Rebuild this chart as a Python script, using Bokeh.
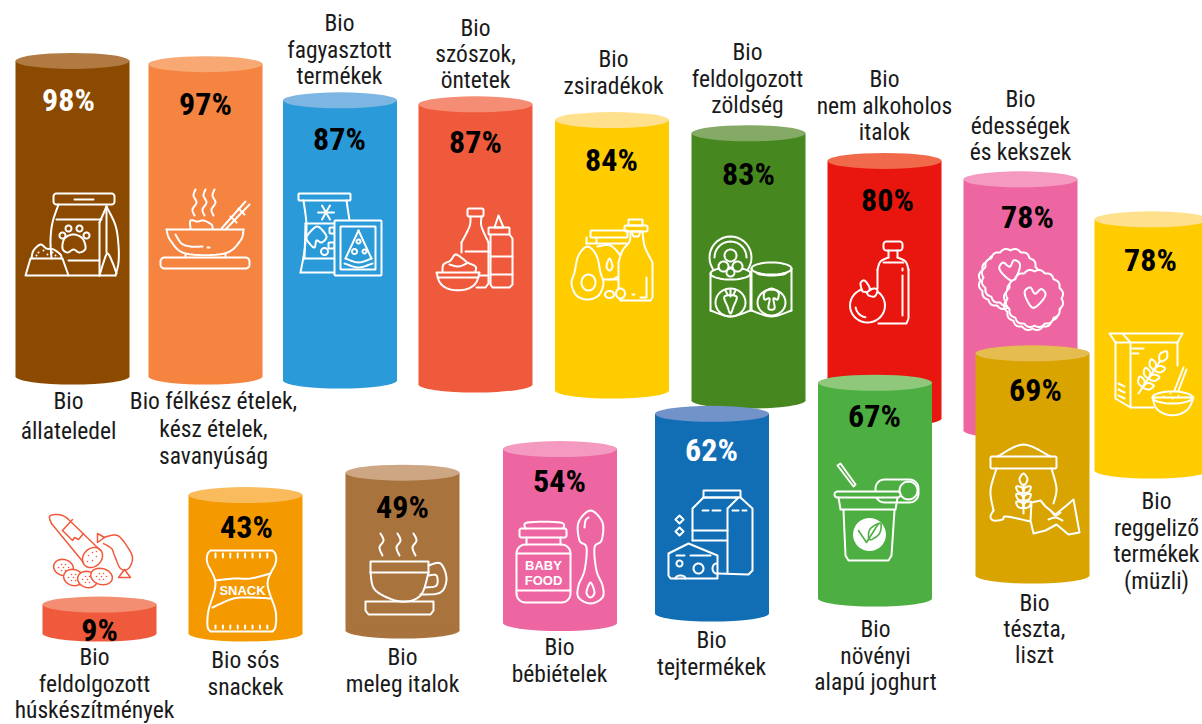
import math
from bokeh.plotting import figure
from bokeh.models import ColumnDataSource
from bokeh.core.properties import value
from bokeh.embed import file_html
from bokeh.resources import INLINE

# ---- chart data ----
categories = [
    "Bio\nállateledel", "Bio félkész ételek,\nkész ételek,\nsavanyúság",
    "Bio\nfagyasztott\ntermékek", "Bio\nszószok,\nöntetek", "Bio\nzsiradékok",
    "Bio\nfeldolgozott\nzöldség", "Bio\nnem alkoholos\nitalok",
    "Bio\nédességek\nés kekszek", "Bio\nreggeliző\ntermékek\n(müzli)",
    "Bio\ntészta,\nliszt", "Bio\nnövényi\nalapú joghurt", "Bio\ntejtermékek",
    "Bio\nbébiételek", "Bio\nmeleg italok", "Bio sós\nsnackek",
    "Bio\nfeldolgozott\nhúskészítmények",
]
shares = [98, 97, 87, 87, 84, 83, 80, 78, 78, 69, 67, 62, 54, 49, 43, 9]

# ---- styling ----
body_colors = ["#8B4A00", "#F4843F", "#2A9AD8", "#F05A3C", "#FFCC00", "#46871F", "#E8160E", "#EE66A1",
               "#FFCC00", "#D9A400", "#4DAE41", "#126EB4", "#EE66A1", "#A9733D", "#F59900", "#F05A3C"]
lid_colors = ["#B07A42", "#F7A873", "#7DB5E3", "#F48D73", "#FFE08C", "#84AA66", "#F0694A", "#F49AC1",
              "#FFE08C", "#E5BC50", "#8FC87B", "#7193C9", "#F49AC1", "#CDA783", "#F9BB5C", "#F48E72"]
pct_colors = ["white", "black", "black", "black", "black", "black", "black", "black",
              "black", "black", "black", "white", "black", "black", "black", "black"]

# ---- layout (screen pixels) ----
PX_PER_PCT = 3.22
CYL_W, LID_H, FOOT_H = 114, 16, 16
col_x = [72, 205, 339.5, 475, 611.5, 748, 884, 1020, 1151, 1032, 874.5, 711.5, 559.5, 402, 245, 99]
col_base = [376, 376, 380, 384, 390, 400, 418, 430, 470, 575, 598, 613, 622.5, 630, 633, 633]
pct_x = [68, 205, 339, 475, 611, 748, 887, 1027, 1150, 1035, 874, 711, 559, 402, 246, 99]
pct_y = [99, 103, 138, 141, 159, 173, 199, 216, 259, 389, 415, 449, 480, 506, 526, 629]
lab_x = [68, 213, 339, 475, 613, 747, 884, 1020, 1156, 1034, 875, 711, 559, 402, 245, 94]
lab_y = [400.5, 400.5, 22.5, 27.5, 58.5, 51.5, 78.5, 98.5, 500.5, 602.5, 628.5, 639.5, 646.5, 656.5, 659.5, 656.5]
lab_gap = [30, 27.5, 26.5, 26, 27, 26.5, 26.5, 26.5, 26.5, 26, 26.5, 27, 27, 27, 27, 26.5]

FONT = "Roboto Condensed"

p = figure(width=1202, height=724, x_range=(0, 1202), y_range=(724, 0),
           output_backend="svg", toolbar_location=None, min_border=0)
p.axis.visible = False
p.grid.visible = False
p.outline_line_color = None


# ---- small icon drawing kit (pure decoration) ----
def spline(pts, closed=False, n=8):
    out = []
    m = len(pts)
    rng = range(m if closed else m - 1)
    for i in rng:
        if closed:
            a, b, c, d = pts[(i - 1) % m], pts[i], pts[(i + 1) % m], pts[(i + 2) % m]
        else:
            a, b, c, d = pts[max(i - 1, 0)], pts[i], pts[i + 1], pts[min(i + 2, m - 1)]
        for k in range(n):
            t = k / n
            out.append(tuple(0.5 * (2 * b[j] + (c[j] - a[j]) * t + (2 * a[j] - 5 * b[j] + 4 * c[j] - d[j]) * t * t
                                    + (3 * b[j] - a[j] - 3 * c[j] + d[j]) * t ** 3) for j in (0, 1)))
    out.append(pts[0] if closed else pts[-1])
    return out


def ell_pts(cx, cy, rx, ry=None, a0=0, a1=360, rot=0):
    ry = rx if ry is None else ry
    res = []
    c, s = math.cos(math.radians(rot)), math.sin(math.radians(rot))
    steps = max(6, int(abs(a1 - a0) / 10))
    for i in range(steps + 1):
        a = math.radians(a0 + (a1 - a0) * i / steps)
        x, y = rx * math.cos(a), ry * math.sin(a)
        res.append((cx + x * c - y * s, cy + x * s + y * c))
    return res


def rrect_pts(x0, y0, x1, y1, r=2):
    pts = []
    pts += ell_pts(x1 - r, y0 + r, r, r, -90, 0)
    pts += ell_pts(x1 - r, y1 - r, r, r, 0, 90)
    pts += ell_pts(x0 + r, y1 - r, r, r, 90, 180)
    pts += ell_pts(x0 + r, y0 + r, r, r, 180, 270)
    pts.append(pts[0])
    return pts


class Icon:
    def __init__(self, fill, color="white", lw=2.0):
        self.fill, self.color, self.lw = fill, color, lw
        self.xs, self.ys = [], []

    def flush(self):
        if self.xs:
            p.multi_line(self.xs, self.ys, line_color=self.color, line_width=self.lw,
                         line_cap="round", line_join="round")
            self.xs, self.ys = [], []

    def path(self, pts):
        self.xs.append([q[0] for q in pts])
        self.ys.append([q[1] for q in pts])

    def line(self, *pts):
        self.path(pts)

    def curve(self, *pts):
        self.path(spline(pts))

    def blob(self, *pts):
        self.path(spline(pts, closed=True))

    def ell(self, *a, **k):
        self.path(ell_pts(*a, **k))

    def rrect(self, *a, **k):
        self.path(rrect_pts(*a, **k))

    def solid(self, pts, color=None, stroke=True):
        """Area that hides what is behind it."""
        self.flush()
        pts = list(pts)
        p.patch([q[0] for q in pts], [q[1] for q in pts], fill_color=color or self.fill,
                line_color=self.color if stroke else None, line_width=self.lw, line_join="round")

    def dots(self, *pts, size=2):
        self.flush()
        p.scatter([q[0] for q in pts], [q[1] for q in pts], size=size, color=self.color, line_color=None)

    def text(self, x, y, s, size):
        self.flush()
        p.text([x], [y], text=[s], text_align="center", text_baseline="middle", text_color=self.color,
               text_font=value("Liberation Sans"), text_font_style="bold", text_font_size=f"{size}px")


def leafy(ic, x0, y0, x1, y1, n=3, lean=7, size=5):
    """Ear of grain: a stem with pairs of leaves."""
    ic.line((x0, y0), (x1, y1))
    ux, uy = (x1 - x0), (y1 - y0)
    L = math.hypot(ux, uy)
    ux, uy = ux / L, uy / L
    nx, ny = -uy, ux
    for i in range(n):
        t = L * (0.2 + 0.26 * i)
        bx, by = x0 + ux * t, y0 + uy * t
        for sgn in (1, -1):
            tx = bx + ux * lean + nx * sgn * lean * 1.2
            ty = by + uy * lean + ny * sgn * lean * 1.2
            mx, my = (bx + tx) / 2, (by + ty) / 2
            dx, dy = (tx - bx), (ty - by)
            q = 0.3
            ic.blob((bx, by), (mx - dy * q, my + dx * q), (tx, ty), (mx + dy * q, my - dx * q))
    ic.blob((x1 - ux, y1 - uy), (x1 + nx * 4 + ux * 5, y1 + ny * 4 + uy * 5), (x1 + ux * 11, y1 + uy * 11),
            (x1 - nx * 4 + ux * 5, y1 - ny * 4 + uy * 5))


def heart(ic, cx, cy, s, rot=0):
    base = [(0, -0.35), (0.5, -0.85), (0.95, -0.45), (0.7, 0.25), (0, 0.95), (-0.7, 0.25), (-0.95, -0.45), (-0.5, -0.85)]
    c, sn = math.cos(math.radians(rot)), math.sin(math.radians(rot))
    ic.blob(*[(cx + s * (x * c - y * sn), cy + s * (x * sn + y * c)) for x, y in base])


def scallop(cx, cy, r, n=8):
    return [(cx + (r + 2 * abs(math.sin(n * math.radians(a)))) * math.cos(math.radians(a)),
             cy + (r + 2 * abs(math.sin(n * math.radians(a)))) * math.sin(math.radians(a))) for a in range(0, 361, 2)]


def icon_pet(c):
    i = Icon(c)
    i.rrect(53, 193, 114, 204, 3); i.line((74, 199), (93, 199))
    i.curve((58, 204), (52, 222), (50, 240), (51, 258))
    i.line((56, 219), (101, 219)); i.line((99, 222), (99, 275)); i.line((106, 206), (99, 222))
    i.curve((106, 206), (115, 225), (118, 245), (118, 262), (115, 275)); i.line((115, 275), (99, 275))
    i.line((106, 206), (106, 252)); i.curve((99, 275), (103, 262), (107, 253), (112, 262), (116, 273))
    i.line((68, 275), (99, 275)); i.line((68, 260), (99, 260))
    for q in [(62, 235), (68, 228), (79, 228), (86, 235)]:
        i.ell(q[0], q[1], 3)
    i.blob((73, 234), (82, 238), (85, 248), (79, 252), (73, 249), (67, 252), (62, 248), (64, 238))
    i.line((25, 275), (30, 258), (62, 258), (68, 275), (25, 275))
    i.curve((31, 258), (33, 250), (40, 244), (46, 248), (53, 249), (60, 254), (61, 258))
    i.flush(); i.dots((38, 252), (43, 250), (47, 254), (52, 252), (55, 255), (36, 255))
    i.flush()


def icon_soup(c):
    i = Icon(c)
    for x in (195, 205, 214):
        i.curve((x - 1, 215), (x - 3, 209), (x + 1, 202), (x - 2, 195), (x, 189))
    i.curve((190, 228), (190, 220), (197, 221), (203, 220), (211, 224), (212, 228))
    i.line((221, 228), (245, 201)); i.line((225, 229), (249, 204)); i.line((238, 208), (244, 214)); i.line((230, 216), (236, 222))
    i.line((166, 229), (243, 229))
    i.curve((166, 229), (170, 240), (185, 253), (224, 253), (240, 240), (243, 229))
    i.curve((175, 234), (181, 243), (190, 246), (202, 246)); i.line((207, 247), (209, 247))
    i.line((185, 253), (185, 257)); i.line((225, 253), (225, 257))
    i.rrect(160, 257, 249, 268, 4)
    i.flush()


def icon_frozen(c):
    i = Icon(c)
    i.rrect(298, 193, 350, 200, 1)
    i.curve((303, 200), (306, 225), (304, 250), (300, 272)); i.line((300, 272), (334, 272)); i.line((346, 200), (349, 220))
    i.line((305, 223), (334, 223)); i.line((304, 258), (334, 258)); i.line((305, 223), (304, 258))
    for a in (0, 60, 120):
        dx, dy = 8 * math.cos(math.radians(a)), 8 * math.sin(math.radians(a))
        i.line((325.5 - dx, 212 - dy), (325.5 + dx, 212 + dy))
    i.blob((311, 230), (317, 226), (323, 231), (326, 237), (321, 242), (316, 240), (314, 247), (309, 243), (306, 237))
    i.ell(324, 251, 3.5); i.rrect(329, 227, 334, 233, 1); i.rrect(328, 242, 334, 248, 1)
    i.solid(rrect_pts(334, 220, 381, 275, 1))
    i.rrect(340, 226, 375, 269, 0.5)
    i.line((358, 230), (371, 258)); i.line((358, 230), (345, 258))
    i.curve((345, 258), (358, 262), (371, 258)); i.curve((344, 263), (358, 267), (372, 263))
    i.ell(358, 241, 2); i.ell(354, 251, 2.5); i.ell(364, 251, 2)
    i.flush()


def icon_sauce(c):
    i = Icon(c)
    i.rrect(467, 208, 483, 216, 1.5)
    i.curve((470, 216), (469, 226), (461, 242)); i.line((461, 242), (461, 252))
    i.curve((481, 216), (481, 226), (488, 242))
    i.line((465, 251), (489, 251)); i.line((488, 242), (488, 283)); i.line((488, 283), (485, 287), (476, 287)); i.line((477, 275), (488, 275))
    i.line((498, 215), (494, 227), (503, 227), (498, 215))
    i.rrect(488, 227, 509, 234, 1)
    i.line((490, 234), (490, 284), (492, 287), (509, 287), (512, 284), (512, 238), (509, 234))
    i.line((490, 256), (512, 256)); i.line((490, 274), (512, 274))
    i.flush()
    i.solid(spline([(436, 272), (440, 283), (450, 289), (465, 289), (475, 283), (479, 272)]) + [(436, 272)])
    i.line((437, 277), (478, 277))
    i.curve((442, 271), (443, 264), (450, 260), (455, 254), (462, 258), (467, 262), (475, 266), (475, 271))
    i.curve((449, 264), (458, 266), (466, 263))
    i.flush()


def icon_oil(c):
    i = Icon(c)
    i.rrect(590, 230, 627, 237, 1); i.line((586, 243), (626, 243)); i.line((586, 243), (586, 237)); i.line((596, 237), (596, 243))
    i.curve((597, 246), (610, 245), (620, 255)); i.ell(609, 264, 14, 15, a0=-40, a1=90)
    i.blob((609, 258), (612, 266), (609, 270), (606, 266))
    i.line((598, 279), (618, 279))
    bottle = spline([(630, 231), (629, 241), (622, 250), (618, 262)]) + [(618, 296), (620, 300), (650, 300), (652, 297), (652, 262)] + spline([(652, 262), (645, 248), (643, 240), (642, 231)])
    i.solid(bottle)
    i.rrect(624, 225, 647, 231, 1.5); i.rrect(628, 219, 642, 225, 0.5)
    i.line((631, 231), (633, 236), (638, 236), (640, 231))
    i.line((646, 277), (646, 297), (640, 297)); i.line((632, 294), (634, 294))
    i.solid(spline([(587, 246), (596, 255), (600, 272), (603, 283), (598, 295), (587, 299), (576, 295), (571, 283), (574, 272), (578, 255)], closed=True))
    i.ell(588, 282, 7, 8)
    i.solid(ell_pts(609, 294, 4.5, 3.5)); i.solid(ell_pts(620, 293, 4.5, 5))
    i.flush()


def icon_cans(c):
    i = Icon(c)
    i.ell(730, 257, 21); i.ell(730, 257, 16, 16, 180, 360)
    i.solid(ell_pts(771, 268, 20, 6)); i.ell(771, 272, 15, 3, 0, 180)
    i.line((751, 268), (751, 310)); i.line((791, 268), (791, 310)); i.curve((751, 310), (771, 316), (791, 310))
    i.ell(771, 302, 14, 13)
    i.blob((771, 288), (778, 292), (777, 299), (773, 298), (774, 308), (768, 308), (769, 298), (764, 299), (764, 292))
    i.solid(ell_pts(730, 273, 20, 6))
    for q in [(723, 266, 5), (737, 266, 5), (730, 255, 6), (730, 272, 4)]:
        i.solid(ell_pts(q[0], q[1], q[2]))
    i.line((710, 273), (710, 310)); i.line((750, 273), (750, 310)); i.curve((710, 310), (730, 316), (750, 310))
    i.ell(730, 302, 15, 14)
    i.blob((724, 296), (736, 296), (733, 306), (730, 313), (727, 306))
    i.line((730, 296), (730, 290)); i.line((727, 294), (725, 290)); i.line((733, 294), (735, 290))
    i.flush()


def icon_apple(c):
    i = Icon(c)
    i.rrect(883, 241, 902, 250, 3)
    i.line((888, 250), (888, 257)); i.line((897, 250), (897, 257))
    i.curve((888, 257), (880, 261), (877, 269)); i.line((877, 269), (877, 288))
    i.curve((897, 257), (905, 261), (908, 269)); i.line((908, 269), (908, 318), (906, 323), (878, 323))
    i.line((883, 262), (903, 262)); i.line((902, 268), (902, 270)); i.line((902, 275), (902, 315))
    i.solid(ell_pts(867, 305, 17.5, 17))
    i.solid(spline([(862, 291), (860, 283), (864, 280), (869, 287), (868, 292)]))
    i.solid(spline([(866, 292), (873, 288), (877, 290), (874, 296), (868, 295)]))
    i.ell(867, 305, 12, 12, 100, 170)
    i.flush()


def icon_cookies(c):
    i = Icon(c)
    i.path(scallop(1007, 280, 27)); i.solid(scallop(1010, 277, 27))
    heart(i, 1010, 270, 11, rot=-12)
    i.path(scallop(1032, 301, 27)); i.solid(scallop(1034, 298, 27))
    heart(i, 1034, 297, 11, rot=8)
    i.flush()


def icon_muesli(c):
    i = Icon(c)
    i.line((1122, 333), (1182, 333), (1177, 342), (1130, 342), (1122, 333), (1109, 333), (1115, 342), (1130, 342))
    i.line((1115, 342), (1115, 398), (1130, 407), (1153, 407)); i.line((1130, 342), (1130, 407))
    i.line((1177, 342), (1177, 365)); i.line((1132, 348), (1143, 348)); i.line((1132, 353), (1138, 353))
    for y in (385, 391, 397):
        i.line((1118, y - 2), (1124, y + 1))
    leafy(i, 1138, 393, 1160, 360, n=3, lean=7)
    i.line((1174, 390), (1183, 367)); i.line((1178, 390), (1186, 369))
    i.solid(spline([(1152, 397), (1156, 408), (1166, 414), (1178, 414), (1188, 408), (1193, 397)]) + [(1152, 397)])
    i.ell(1172, 397, 20, 6)
    i.flush(); i.dots((1163, 396), (1170, 393), (1178, 395), (1184, 397), (1172, 398))
    i.flush()


def icon_flour(c):
    i = Icon(c)
    i.curve((997, 456), (1023, 444), (1050, 456))
    i.rrect(990, 456, 1056, 468, 1.5)
    i.curve((996, 468), (990, 490), (993, 510)); i.curve((993, 510), (990, 516), (993, 520), (1002, 519), (1006, 516), (1030, 521))
    i.curve((1051, 468), (1056, 488), (1053, 503))
    leafy(i, 1023, 513, 1023, 484, n=3, lean=6)
    far = [(1031, 502), (1040, 500), (1045, 506), (1055, 514), (1066, 505), (1073, 499), (1079, 532), (1068, 534), (1056, 524), (1045, 530), (1033, 533), (1030, 520)]
    i.solid(far)
    i.curve((1050, 510), (1055, 515), (1060, 512)); i.curve((1048, 519), (1055, 517), (1062, 520))
    i.flush()


def icon_yog(c):
    i = Icon(c)
    i.line((837, 465), (853, 486), (855, 484), (840, 463), (837, 465))
    i.rrect(875, 479, 918, 502, 9)
    i.solid(ell_pts(908, 490, 9))
    i.solid(rrect_pts(834, 491, 900, 497, 3))
    i.line((838, 497), (840, 509), (895, 509), (897, 497))
    i.line((843, 510), (845, 555), (848, 560), (888, 560), (891, 555), (894, 510))
    i.flush()
    p.scatter([869], [534], size=33, color="white", line_color=None)
    j = Icon(c, color=c, lw=1.6)
    j.line((858, 530), (866, 542), (878, 523))
    j.blob((868, 537), (870, 528), (880, 523), (879, 533), (871, 539))
    j.flush()


def icon_dairy(c):
    i = Icon(c)
    i.rrect(703, 490, 740, 497, 0.5)
    i.line((703, 497), (692, 508), (692, 540)); i.line((703, 497), (738, 497), (727, 508), (727, 572))
    i.line((740, 497), (752, 508), (752, 570), (748, 574), (717, 573))
    i.line((702, 510), (708, 510)); i.line((712, 510), (720, 510)); i.line((732, 510), (738, 510)); i.line((742, 510), (746, 510))
    i.line((692, 530), (727, 530)); i.line((692, 540), (726, 540))
    i.line((679, 515), (683, 519), (679, 523), (675, 519), (679, 515)); i.line((679, 527), (683, 531), (679, 535), (675, 531), (679, 527))
    i.solid([(668, 553), (688, 543), (717, 555), (717, 578), (670, 578), (668, 575)])
    i.line((676, 555), (684, 555)); i.line((690, 555), (710, 555))
    i.ell(679, 563, 3); i.ell(698, 568, 5); i.ell(716, 568, 4, 5, 90, 270); i.ell(680, 578, 5, 3, 180, 360)
    i.flush()


def icon_baby(c):
    i = Icon(c)
    i.curve((525, 528), (527, 522), (560, 522), (563, 528))
    i.rrect(519, 528, 566, 537, 2)
    i.line((526, 537), (526, 544)); i.line((560, 537), (560, 544))
    i.rrect(516, 544, 570, 602, 9)
    i.line((516, 553), (570, 553)); i.line((516, 590), (570, 590))
    i.text(543, 565, "BABY", 13); i.text(543, 580, "FOOD", 13)
    i.blob((590, 510), (602, 522), (601, 540), (594, 547), (596, 570), (602, 585), (602, 597), (590, 603), (578, 597), (578, 585), (584, 570), (586, 547), (579, 540), (578, 522))
    i.curve((584, 527), (585, 520), (588, 517)); i.blob((590, 582), (594, 592), (590, 597), (586, 592))
    i.flush()


def icon_cup(c):
    i = Icon(c)
    for x in (381, 398, 414):
        i.curve((x + 1, 555), (x - 2, 547), (x + 2, 540), (x - 1, 533))
    i.curve((428, 565), (440, 563), (446, 578), (440, 592), (420, 594))
    i.curve((428, 575), (436, 575), (436, 585), (425, 587))
    i.line((370, 572), (370, 561), (428, 561), (428, 572))
    i.line((370, 572), (428, 572))
    i.curve((370, 572), (375, 590), (400, 601), (420, 595), (428, 572))
    i.line((365, 601), (433, 601), (433, 610), (430, 614), (368, 614), (365, 610), (365, 601))
    i.flush()


def icon_snack(c):
    i = Icon(c)
    i.path([(210, 550), (272, 550)] + spline([(272, 550), (275, 554), (275, 563), (267, 583), (275, 610), (275, 626), (272, 631)], n=6)
           + [(210, 631)] + spline([(210, 631), (207, 626), (208, 610), (215, 583), (207, 563), (207, 554), (210, 550)], n=6))
    for k in range(8):
        x = 215 + k * 7.4
        i.line((x, 553), (x, 557))
        i.line((x, 625), (x, 628))
    i.curve((215, 580), (233, 578), (250, 578), (270, 573))
    i.curve((212, 607), (233, 598), (250, 597), (270, 598))
    i.text(242, 590, "SNACK", 13)
    i.flush()


def icon_meat(c):
    i = Icon(c, color=c, lw=1.5)
    i.curve((51, 523), (49, 516), (55, 514), (62, 515), (67, 518)); i.line((67, 518), (100, 550)); i.line((51, 523), (83, 562))
    i.line((62, 530), (72, 519)); i.line((62, 530), (72, 540), (74, 537), (78, 539), (83, 533))
    i.ell(92, 557, 11, 9, rot=-45)
    i.flush(); i.dots((88, 555), (92, 552), (96, 556), (92, 560), (87, 561), (96, 551), size=1.6)
    i.curve((103, 537), (117, 535), (128, 548), (132, 558), (128, 568), (120, 568), (114, 555), (111, 548), (103, 543))
    i.line((97, 533), (97, 542), (104, 537), (97, 533)); i.line((124, 569), (118, 577), (130, 577), (124, 569))
    for q, rr in [((63, 567), (10, 8)), ((73, 577), (10, 8)), ((87, 579), (10, 8)), ((101, 576), (11, 8))]:
        i.solid(ell_pts(q[0], q[1], rr[0], rr[1], rot=15), color="white")
        i.dots(*[(q[0] + dx, q[1] + dy) for dx, dy in [(-5, 0), (-2, -3), (2, -3), (5, 0), (-2, 3), (2, 3), (0, 0)]], size=1.6)
    i.flush()


icons = [icon_pet, icon_soup, icon_frozen, icon_sauce, icon_oil, icon_cans, icon_apple, icon_cookies,
         icon_muesli, icon_flour, icon_yog, icon_dairy, icon_baby, icon_cup, icon_snack, icon_meat]

# ---- cylinders: every height comes from the share values ----
for k in range(len(shares)):
    base = col_base[k]
    top = base - shares[k] * PX_PER_PCT
    p.ellipse([col_x[k]], [base], width=CYL_W, height=FOOT_H, color=body_colors[k], line_color=None)
    p.vbar(x=[col_x[k]], width=CYL_W, top=[top], bottom=[base], color=body_colors[k], line_color=None)
    p.ellipse([col_x[k]], [top], width=CYL_W, height=LID_H, color=lid_colors[k], line_color=None)
    icons[k](body_colors[k])

p.text(x="x", y="y", text="t", text_color="c", source=ColumnDataSource(dict(
    x=pct_x, y=pct_y, t=[f"{v}%" for v in shares], c=pct_colors)),
    text_align="center", text_baseline="middle", text_font=value(FONT), text_font_style="bold", text_font_size="32px")

# ---- category labels ----
lx, ly, lt = [], [], []
for k, name in enumerate(categories):
    for n, row in enumerate(name.split("\n")):
        lx.append(lab_x[k]); ly.append(lab_y[k] + n * lab_gap[k]); lt.append(row)
p.text(x="x", y="y", text="t", source=ColumnDataSource(dict(x=lx, y=ly, t=lt)), text_color="#1a1a1a",
       text_align="center", text_baseline="middle", text_font=value(FONT), text_font_size="23.5px")

open("out.html", "w").write(file_html(p, INLINE))
